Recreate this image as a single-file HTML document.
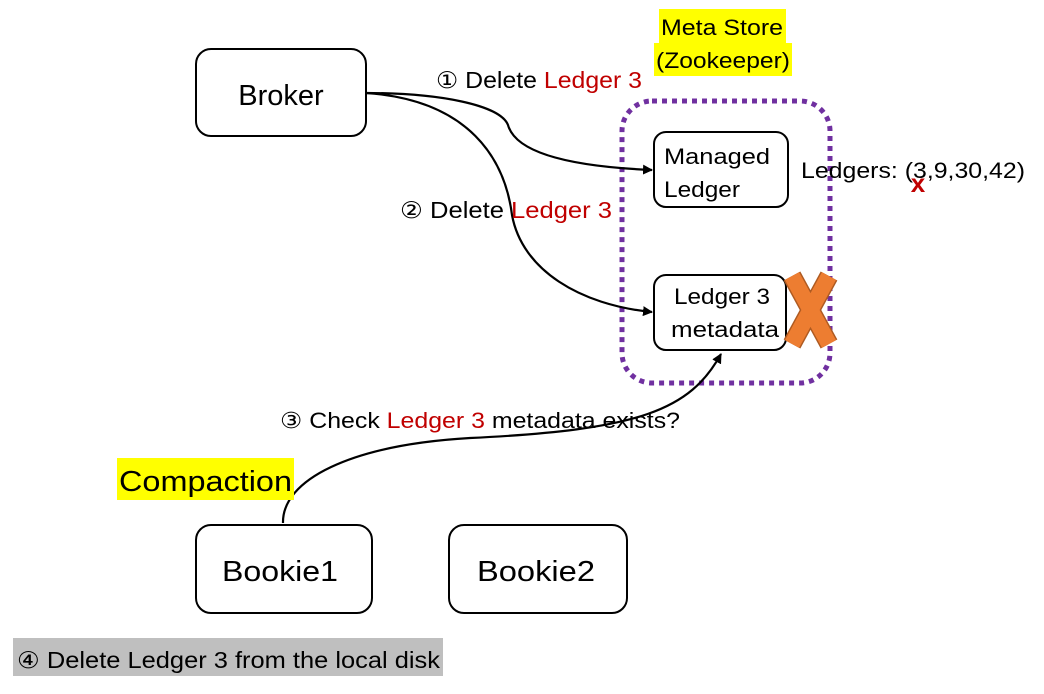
<!DOCTYPE html>
<html><head><meta charset="utf-8"><style>
html,body{margin:0;padding:0;background:#fff;}
svg{display:block;font-family:"Liberation Sans","DejaVu Sans",sans-serif;}
</style></head><body>
<svg width="1044" height="694" viewBox="0 0 1044 694" xmlns="http://www.w3.org/2000/svg">
<defs>
<marker id="ah" markerWidth="10" markerHeight="10" refX="9" refY="5" orient="auto" markerUnits="userSpaceOnUse">
<path d="M0,0 L10,5 L0,10 z" fill="#000"/></marker>
</defs>
<rect x="659" y="9" width="127" height="34" fill="#ffff00"/>
<rect x="654" y="43" width="138" height="33" fill="#ffff00"/>
<text x="722" y="35" font-size="22" text-anchor="middle" textLength="122" lengthAdjust="spacingAndGlyphs">Meta Store</text>
<text x="723" y="68" font-size="22" text-anchor="middle" textLength="134" lengthAdjust="spacingAndGlyphs">(Zookeeper)</text>

<rect x="622" y="101" width="208" height="282" rx="30" fill="none" stroke="#7030a0" stroke-width="5" stroke-dasharray="5 5"/>

<rect x="196" y="49" width="170" height="87" rx="15" fill="#fff" stroke="#000" stroke-width="2"/>
<text x="281" y="105" font-size="29" text-anchor="middle">Broker</text>

<rect x="654" y="132" width="134" height="75" rx="12" fill="#fff" stroke="#000" stroke-width="2"/>
<text x="664" y="164" font-size="22" textLength="106" lengthAdjust="spacingAndGlyphs">Managed</text>
<text x="664" y="197" font-size="22" textLength="76" lengthAdjust="spacingAndGlyphs">Ledger</text>

<rect x="654" y="275" width="132" height="75" rx="12" fill="#fff" stroke="#000" stroke-width="2"/>
<text x="722" y="304" font-size="22" text-anchor="middle" textLength="96" lengthAdjust="spacingAndGlyphs">Ledger 3</text>
<text x="725" y="337" font-size="22" text-anchor="middle" textLength="108" lengthAdjust="spacingAndGlyphs">metadata</text>

<g stroke-linecap="butt">
<line x1="792" y1="276" x2="829" y2="344" stroke="#ae5a21" stroke-width="19"/>
<line x1="829" y1="276" x2="792" y2="344" stroke="#ae5a21" stroke-width="19"/>
<line x1="792" y1="276" x2="829" y2="344" stroke="#ed7d31" stroke-width="16"/>
<line x1="829" y1="276" x2="792" y2="344" stroke="#ed7d31" stroke-width="16"/>
</g>

<text x="801" y="178" font-size="22" textLength="224" lengthAdjust="spacingAndGlyphs">Ledgers: (3,9,30,42)</text>
<text x="918" y="192" font-size="26" font-weight="bold" fill="#c00000" text-anchor="middle">x</text>

<path d="M366,93 C440,93 500,105 508,125 C515,150 560,166 652,170" fill="none" stroke="#000" stroke-width="2.2" marker-end="url(#ah)"/>
<path d="M366,93 C470,100 505,160 512,215 C522,270 580,305 652,312" fill="none" stroke="#000" stroke-width="2.2" marker-end="url(#ah)"/>
<path d="M283,523 C282,480 350,445 470,438 C640,430 690,410 721,354" fill="none" stroke="#000" stroke-width="2.2" marker-end="url(#ah)"/>

<text x="436" y="88" font-size="23" textLength="206" lengthAdjust="spacingAndGlyphs"><tspan>① Delete </tspan><tspan fill="#c00000">Ledger 3</tspan></text>
<text x="400" y="218" font-size="23" textLength="212" lengthAdjust="spacingAndGlyphs"><tspan>② Delete </tspan><tspan fill="#c00000">Ledger 3</tspan></text>
<text x="280" y="428" font-size="22" textLength="400" lengthAdjust="spacingAndGlyphs"><tspan>③ Check </tspan><tspan fill="#c00000">Ledger 3</tspan><tspan> metadata exists?</tspan></text>

<rect x="117" y="458" width="177" height="42" fill="#ffff00"/>
<text x="119" y="491" font-size="29" textLength="173" lengthAdjust="spacingAndGlyphs">Compaction</text>

<rect x="196" y="525" width="176" height="88" rx="15" fill="#fff" stroke="#000" stroke-width="2"/>
<text x="280" y="581" font-size="29" text-anchor="middle" textLength="116" lengthAdjust="spacingAndGlyphs">Bookie1</text>
<rect x="449" y="525" width="178" height="88" rx="15" fill="#fff" stroke="#000" stroke-width="2"/>
<text x="536" y="581" font-size="29" text-anchor="middle" textLength="118" lengthAdjust="spacingAndGlyphs">Bookie2</text>

<rect x="13" y="638" width="430" height="38" fill="#bfbfbf"/>
<text x="17" y="668" font-size="23" textLength="423" lengthAdjust="spacingAndGlyphs">④ Delete Ledger 3 from the local disk</text>
</svg>
</body></html>
